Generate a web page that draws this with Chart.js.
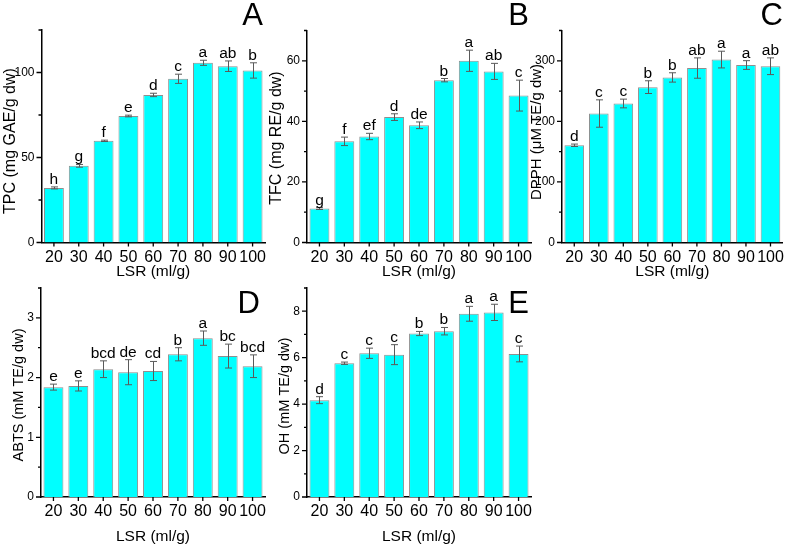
<!DOCTYPE html>
<html><head><meta charset="utf-8">
<script src="https://cdn.jsdelivr.net/npm/chart.js@4.4.1/dist/chart.umd.min.js"></script>
<style>
html,body{margin:0;padding:0;background:#fff;}
#wrap{position:relative;width:789px;height:550px;overflow:hidden;background:#fff}
#wrap canvas{position:absolute;left:0;top:0}
</style>
</head><body><div id="wrap"></div>
<script>
const categories = ['20','30','40','50','60','70','80','90','100'];
const xTitle = 'LSR (ml/g)';

const tpcValues  = [32.1, 45.1, 59.8, 74.4, 86.8, 96.3, 105.7, 103.7, 101.2];
const tpcErrors  = [0.6, 0.8, 0.4, 0.5, 1.0, 2.7, 1.5, 3.1, 4.5];
const tpcLetters = ['h','g','f','e','d','c','a','ab','b'];
const tpcTicks   = [0, 50, 100];

const tfcValues  = [11.2, 33.4, 35.0, 41.4, 38.7, 53.6, 60.0, 56.5, 48.5];
const tfcErrors  = [0.3, 1.4, 1.05, 1.1, 1.1, 0.55, 3.5, 2.65, 5.1];
const tfcLetters = ['g','f','ef','d','de','b','a','ab','c'];
const tfcTicks   = [0, 20, 40, 60];

const dpphValues  = [160.5, 212.9, 229.5, 256.5, 272.5, 288, 302, 293, 291];
const dpphErrors  = [2, 22.6, 7.2, 10.5, 7.7, 16.8, 13.8, 7.2, 13.8];
const dpphLetters = ['d','c','c','b','b','ab','a','a','ab'];
const dpphTicks   = [0, 100, 200, 300];

const abtsValues  = [1.84, 1.86, 2.14, 2.09, 2.11, 2.39, 2.66, 2.36, 2.19];
const abtsErrors  = [0.05, 0.085, 0.14, 0.21, 0.16, 0.11, 0.12, 0.2, 0.19];
const abtsLetters = ['e','e','bcd','de','cd','b','a','bc','bcd'];
const abtsTicks   = [0, 1, 2, 3];

const ohValues  = [4.17, 5.76, 6.19, 6.13, 7.04, 7.14, 7.89, 7.95, 6.16];
const ohErrors  = [0.15, 0.05, 0.22, 0.43, 0.09, 0.16, 0.32, 0.35, 0.34];
const ohLetters = ['d','c','c','c','b','b','a','a','c'];
const ohTicks   = [0, 2, 4, 6, 8];

const FONT = 'Arial, "Liberation Sans", Helvetica, sans-serif';
const W = 789, H = 550, Y_W = 30, X_H = 25;

const panels = [
  {id:'A', values:tpcValues, errors:tpcErrors, letters:tpcLetters, ticks:tpcTicks, max:125,
   yTitle:'TPC (mg GAE/g dw)', area:{left:41.5,right:265,top:30,bottom:242.5},
   yTitlePos:{x:11,y:141}, yTitleSize:16, xTitleY:272, letterPos:{x:263,y:25}},
  {id:'B', values:tfcValues, errors:tfcErrors, letters:tfcLetters, ticks:tfcTicks, max:70,
   yTitle:'TFC (mg RE/g dw)', area:{left:307,right:531,top:30.5,bottom:242.5},
   yTitlePos:{x:277,y:138}, yTitleSize:16, xTitleY:272, letterPos:{x:529,y:25}},
  {id:'C', values:dpphValues, errors:dpphErrors, letters:dpphLetters, ticks:dpphTicks, max:350,
   yTitle:'DPPH (\u03bcM TE/g dw)', area:{left:562,right:786,top:30.5,bottom:242.5},
   yTitlePos:{x:537,y:132}, yTitleSize:15, xTitleY:272, letterPos:{x:783,y:25}},
  {id:'D', values:abtsValues, errors:abtsErrors, letters:abtsLetters, ticks:abtsTicks, max:3.5,
   yTitle:'ABTS (mM TE/g dw)', area:{left:41,right:265,top:288,bottom:497},
   yTitlePos:{x:19,y:395}, yTitleSize:14.5, xTitleY:537, letterPos:{x:260,y:313}},
  {id:'E', values:ohValues, errors:ohErrors, letters:ohLetters, ticks:ohTicks, max:9,
   yTitle:'OH (mM TE/g dw)', area:{left:307,right:531,top:288,bottom:497},
   yTitlePos:{x:285,y:396}, yTitleSize:14.5, xTitleY:537, letterPos:{x:529,y:313}}
];

function makeOverlay(p) {
  return {
    id: 'overlay' + p.id,
    afterDatasetsDraw(chart) {
      const ctx = chart.ctx, ys = chart.scales.y;
      ctx.save();
      ctx.strokeStyle = '#5a5a5a';
      ctx.lineWidth = 1;
      const meta = chart.getDatasetMeta(0);
      p.values.forEach((v, i) => {
        const cx = Math.round(meta.data[i].x) + 0.5;
        const yt = ys.getPixelForValue(v + p.errors[i]);
        const yb = ys.getPixelForValue(v - p.errors[i]);
        ctx.beginPath();
        ctx.moveTo(cx, yt); ctx.lineTo(cx, yb);
        ctx.moveTo(cx - 3.5, yt); ctx.lineTo(cx + 3.5, yt);
        ctx.moveTo(cx - 3.5, yb); ctx.lineTo(cx + 3.5, yb);
        ctx.stroke();
        ctx.fillStyle = '#000';
        ctx.font = '15.5px ' + FONT;
        ctx.textAlign = 'center';
        ctx.textBaseline = 'alphabetic';
        ctx.fillText(p.letters[i], meta.data[i].x, yt - 3);
      });
      ctx.restore();
    },
    afterDraw(chart) {
      const ctx = chart.ctx, xs = chart.scales.x, ys = chart.scales.y, ca = chart.chartArea;
      ctx.save();
      ctx.strokeStyle = '#000';
      ctx.lineWidth = 1.3;
      const step = p.ticks[1] - p.ticks[0];
      ctx.beginPath();
      p.ticks.forEach(t => {
        const yy = ys.getPixelForValue(t);
        ctx.moveTo(ca.left, yy); ctx.lineTo(ca.left - 5, yy);
      });
      for (let m = step / 2; m <= p.max + 1e-9; m += step) {
        const yy = ys.getPixelForValue(m);
        ctx.moveTo(ca.left, yy); ctx.lineTo(ca.left - 3, yy);
      }
      categories.forEach((c, i) => {
        const xx = xs.getPixelForValue(i);
        ctx.moveTo(xx, ca.bottom); ctx.lineTo(xx, ca.bottom + 4);
      });
      ctx.stroke();
      ctx.fillStyle = '#000';
      ctx.textAlign = 'center';
      ctx.textBaseline = 'middle';
      ctx.font = '15.5px ' + FONT;
      ctx.fillText(xTitle, (ca.left + ca.right) / 2, p.xTitleY);
      ctx.save();
      ctx.translate(p.yTitlePos.x, p.yTitlePos.y);
      ctx.rotate(-Math.PI / 2);
      ctx.font = p.yTitleSize + 'px ' + FONT;
      ctx.fillText(p.yTitle, 0, 0);
      ctx.restore();
      ctx.font = '31px ' + FONT;
      ctx.textAlign = 'right';
      ctx.textBaseline = 'alphabetic';
      ctx.fillText(p.id, p.letterPos.x, p.letterPos.y);
      ctx.restore();
    }
  };
}

const wrap = document.getElementById('wrap');
panels.forEach(p => {
  const cv = document.createElement('canvas');
  cv.width = W; cv.height = H;
  cv.style.width = W + 'px'; cv.style.height = H + 'px';
  wrap.appendChild(cv);
  new Chart(cv.getContext('2d'), {
    type: 'bar',
    data: {
      labels: categories,
      datasets: [{
        data: p.values,
        backgroundColor: '#00FFFF',
        borderColor: '#8f8f8f',
        borderWidth: 1,
        barPercentage: 0.8,
        categoryPercentage: 1.0
      }]
    },
    options: {
      responsive: false,
      maintainAspectRatio: false,
      animation: false,
      devicePixelRatio: 1,
      events: [],
      layout: {
        padding: {
          left: p.area.left - Y_W,
          right: W - p.area.right,
          top: p.area.top,
          bottom: H - p.area.bottom - X_H
        }
      },
      plugins: { legend: { display: false }, tooltip: { enabled: false }, title: { display: false } },
      scales: {
        x: {
          type: 'category',
          offset: true,
          grid: { display: false, drawTicks: false },
          border: { display: true, color: '#000', width: 1.5 },
          ticks: { color: '#000', font: { family: FONT, size: 16 }, padding: 5, maxRotation: 0, autoSkip: false },
          afterFit: s => { s.height = X_H; }
        },
        y: {
          type: 'linear',
          min: 0, max: p.max,
          grid: { display: false, drawTicks: false },
          border: { display: true, color: '#000', width: 1.5 },
          ticks: { color: '#000', font: { family: FONT, size: 12 }, padding: 7 },
          afterBuildTicks: s => { s.ticks = p.ticks.map(v => ({ value: v })); },
          afterFit: s => { s.width = Y_W; }
        }
      }
    },
    plugins: [makeOverlay(p)]
  });
});
</script>
</body></html>
